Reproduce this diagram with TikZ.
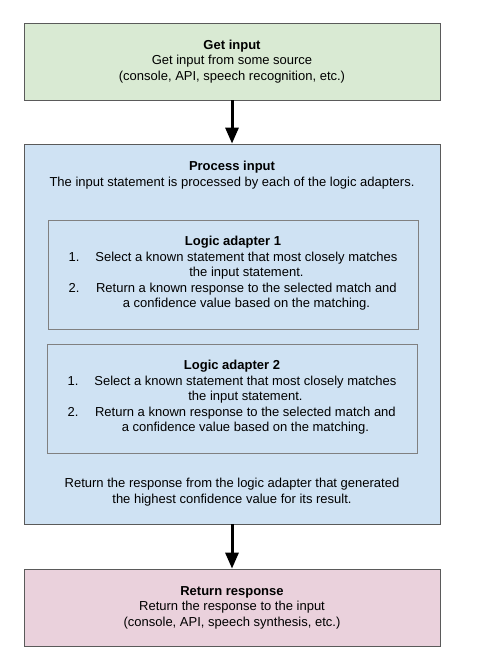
\documentclass[tikz,border=0pt]{standalone}
\usepackage{fontspec}
\setmainfont{Liberation Sans}
\usetikzlibrary{arrows.meta}
\definecolor{getc}{HTML}{D9EAD3}
\definecolor{procc}{HTML}{CFE2F3}
\definecolor{retc}{HTML}{EAD1DC}
\definecolor{edgec}{HTML}{5A5A5A}
\newcommand{\steps}{\begin{tabular}[t]{@{}l@{\hspace{16pt}}c@{}}
  1. & Select a known statement that most closely matches\\
     & the input statement.\\
  2. & Return a known response to the selected match and\\
     & a confidence value based on the matching.
\end{tabular}}

\begin{document}
\begin{tikzpicture}[x=1pt,y=-1pt,>={Triangle[length=16pt,width=13pt]},
  txt/.style={font=\fontsize{13}{15.5}\selectfont,align=center,inner sep=0pt},
  stage/.style={txt,draw=edgec,line width=0.8pt,minimum width=416pt,minimum height=77pt},
  adapter/.style={txt,draw=gray,fill=procc,line width=0.6pt,minimum width=370pt,minimum height=109pt},
  flow/.style={->,line width=3pt,black}]
  \useasboundingbox (0,0) rectangle (478,668);
  \node[stage,fill=getc] (get) at (232,61.5) {\textbf{Get input}\\Get input from some source\\(console, API, speech recognition, etc.)};
  \node[stage,fill=procc,minimum height=380pt] (proc) at (232,334) {};
  \node[txt] (ptitle) at (232,175) {\textbf{Process input}\\The input statement is processed by each of the logic adapters.};
  \node[adapter] (la1) at (233,274.5) {\textbf{Logic adapter 1}\\\steps};
  \node[adapter] (la2) at (232,398.5) {\textbf{Logic adapter 2}\\\steps};
  \node[txt] (pbest) at (232,492) {Return the response from the logic adapter that generated\\the highest confidence value for its result.};
  \node[stage,fill=retc] (ret) at (232,607.5) {\textbf{Return response}\\Return the response to the input\\(console, API, speech synthesis, etc.)};
  \draw[flow] (get) -- (proc);
  \draw[flow] (proc) -- (ret);
\end{tikzpicture}
\end{document}
